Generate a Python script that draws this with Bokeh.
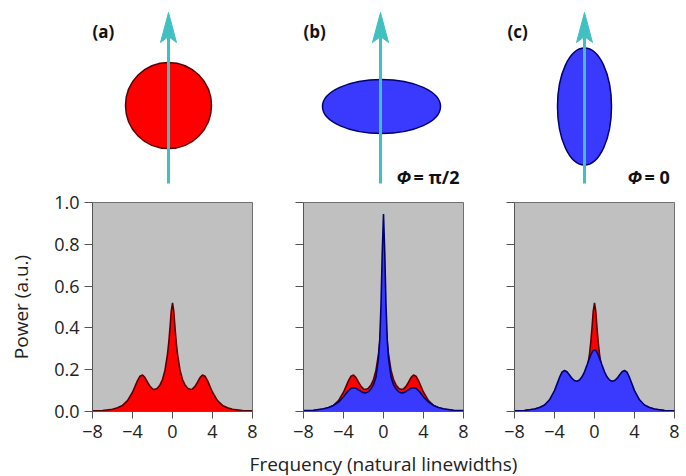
from bokeh.plotting import figure
from bokeh.layouts import column, row
from bokeh.models import Range1d, FixedTicker
from bokeh.core.properties import value
from bokeh.embed import file_html
from bokeh.resources import INLINE

# ---------------- data ----------------
freq = [-8, -7, -6, -5.5, -5, -4.5, -4, -3.5, -3.25, -3, -2.75, -2.5, -2.25, -2,
        -1.75, -1.5, -1.25, -1, -0.75, -0.5, -0.375, -0.25, -0.125, 0,
        0.125, 0.25, 0.375, 0.5, 0.75, 1, 1.25, 1.5, 1.75, 2, 2.25, 2.5, 2.75,
        3, 3.25, 3.5, 4, 4.5, 5, 5.5, 6, 7, 8]

power_red = [0.003, 0.005, 0.011, 0.018, 0.029, 0.052, 0.092, 0.148, 0.169, 0.175,
             0.162, 0.14, 0.12, 0.108, 0.106, 0.112, 0.127, 0.153, 0.198, 0.275,
             0.33, 0.40, 0.48, 0.52,
             0.48, 0.40, 0.33, 0.275, 0.198, 0.153, 0.127, 0.112, 0.106, 0.108,
             0.12, 0.14, 0.162, 0.175, 0.169, 0.148, 0.092, 0.052, 0.029, 0.018,
             0.011, 0.005, 0.003]

power_blue_b = [0.004, 0.006, 0.013, 0.019, 0.029, 0.045, 0.07, 0.1, 0.111, 0.114,
                0.111, 0.104, 0.096, 0.09, 0.089, 0.095, 0.108, 0.128, 0.165, 0.255,
                0.345, 0.51, 0.76, 0.945,
                0.76, 0.51, 0.345, 0.255, 0.165, 0.128, 0.108, 0.095, 0.089, 0.09,
                0.096, 0.104, 0.111, 0.114, 0.111, 0.1, 0.07, 0.045, 0.029, 0.019,
                0.013, 0.006, 0.004]

power_blue_c = [0.003, 0.005, 0.012, 0.019, 0.031, 0.056, 0.1, 0.163, 0.188, 0.196,
                0.19, 0.175, 0.158, 0.148, 0.145, 0.151, 0.166, 0.19, 0.222, 0.255,
                0.27, 0.283, 0.292, 0.295,
                0.292, 0.283, 0.27, 0.255, 0.222, 0.19, 0.166, 0.151, 0.145, 0.148,
                0.158, 0.175, 0.19, 0.196, 0.188, 0.163, 0.1, 0.056, 0.031, 0.019,
                0.012, 0.005, 0.003]

xticks = [-8, -4, 0, 4, 8]
xtick_labels = ["\u22128", "\u22124", "0", "4", "8"]
yticks = [0.0, 0.2, 0.4, 0.6, 0.8, 1.0]
ytick_labels = ["0.0", "0.2", "0.4", "0.6", "0.8", "1.0"]

panel_letters = ["(a)", "(b)", "(c)"]
phase_symbol = ["\u03a6", "\u03a6"]
phase_values = ["= \u03c0/2", "= 0"]
x_title = "Frequency (natural linewidths)"
y_title = "Power (a.u.)"

# ---------------- styles ----------------
FONT = "Open Sans"
RED = "#ff0000"
RED_EDGE = "#5a0000"
BLUE = "#3a3aff"
BLUE_EDGE = "#000070"
CYAN = "#40c0c0"
GRAY_BG = "#c0c0c0"
AXIS_C = "#555555"
TXT = "#111111"

W = 686
TOP_H = 189

# ---------------- top illustration ----------------
top = figure(width=W, height=TOP_H, x_range=Range1d(0, W), y_range=Range1d(TOP_H, 0),
             output_backend="svg", toolbar_location=None, min_border=0,
             x_axis_location=None, y_axis_location=None, outline_line_color=None)
top.grid.visible = False

ell_x = [168, 381, 584]
ell_y = [105, 106, 106]
ell_w = [86, 118, 54]
ell_h = [86, 54, 117]
top.ellipse(x=ell_x, y=ell_y, width=ell_w, height=ell_h,
            fill_color=[RED, BLUE, BLUE], line_color=[RED_EDGE, BLUE_EDGE, BLUE_EDGE],
            line_width=1.5)

arrow_x = [168, 380, 584]
top.segment(x0=arrow_x, y0=[183] * 3, x1=arrow_x, y1=[36] * 3,
            line_color=CYAN, line_width=3)
top.patches(xs=[[cx, cx - 8, cx, cx + 8] for cx in arrow_x],
            ys=[[12, 42, 36, 42] for _ in arrow_x],
            fill_color=CYAN, line_color=CYAN, line_width=1)

top.text(x=[92, 303, 507], y=[31, 31, 31], text=panel_letters,
         text_font=value(FONT), text_font_size="17px", text_font_style="bold",
         text_align="left", text_baseline="middle", text_color=TXT)

top.text(x=[396, 627], y=[176, 176], text=phase_symbol,
         text_font=value(FONT), text_font_size="18px", text_font_style="bold italic",
         text_align="left", text_baseline="middle", text_color=TXT)
top.text(x=[413, 644], y=[176, 176], text=phase_values,
         text_font=value(FONT), text_font_size="18px", text_font_style="bold",
         text_align="left", text_baseline="middle", text_color=TXT)

# ---------------- spectra panels ----------------
def make_panel(left, right, show_ylabels, ylabel=None):
    p = figure(width=left + 160 + right, height=262,
               x_range=Range1d(-8, 8), y_range=Range1d(0, 1.0),
               output_backend="svg", toolbar_location=None,
               min_border_left=left, min_border_right=right,
               min_border_top=13, min_border_bottom=40,
               background_fill_color=GRAY_BG, outline_line_color="#707070",
               outline_line_width=1)
    p.grid.visible = False
    for ax in (p.xaxis[0], p.yaxis[0]):
        ax.axis_line_color = AXIS_C
        ax.major_tick_line_color = AXIS_C
        ax.minor_tick_line_color = None
        ax.major_tick_in = 0
        ax.major_label_text_font = FONT
        ax.major_label_text_font_size = "18px"
        ax.major_label_text_color = "#222222"
        ax.axis_label_text_font = FONT
        ax.axis_label_text_font_size = "19px"
        ax.axis_label_text_font_style = "normal"
        ax.axis_label_text_color = "#222222"
    p.xaxis.ticker = FixedTicker(ticks=xticks)
    p.xaxis.major_label_overrides = dict(zip(xticks, xtick_labels))
    p.xaxis.major_tick_out = 7
    p.xaxis.major_label_standoff = 6
    p.yaxis.ticker = FixedTicker(ticks=yticks)
    if show_ylabels:
        p.yaxis.major_label_overrides = dict(zip(yticks, ytick_labels))
    else:
        p.yaxis.major_label_overrides = {t: "" for t in yticks}
    p.yaxis.major_tick_out = 8
    p.yaxis.major_label_standoff = 5
    if ylabel:
        p.yaxis.axis_label = ylabel
        p.yaxis.axis_label_standoff = 17
    return p

pa = make_panel(92, 25, True, ylabel=y_title)
pb = make_panel(26, 25, False)
pc = make_panel(26, 12, False)

def draw(p, y, fill, edge):
    p.varea(x=freq, y1=[0] * len(freq), y2=y, fill_color=fill)
    p.line(x=freq, y=y, line_color=edge, line_width=1.6)

draw(pa, power_red, RED, RED_EDGE)
draw(pb, power_red, RED, RED_EDGE)
draw(pb, power_blue_b, BLUE, BLUE_EDGE)
draw(pc, power_red, RED, RED_EDGE)
draw(pc, power_blue_c, BLUE, BLUE_EDGE)

# ---------------- shared x title ----------------
XL_H = 25
xl = figure(width=W, height=XL_H, x_range=Range1d(0, W), y_range=Range1d(XL_H, 0),
            output_backend="svg", toolbar_location=None, min_border=0,
            x_axis_location=None, y_axis_location=None, outline_line_color=None)
xl.grid.visible = False
xl.text(x=[383], y=[12], text=[x_title], text_font=value(FONT), text_font_size="19px",
        text_align="center", text_baseline="middle", text_color="#222222")

layout = column(top, row(pa, pb, pc), xl)
open("out.html", "w").write(file_html(layout, INLINE))
